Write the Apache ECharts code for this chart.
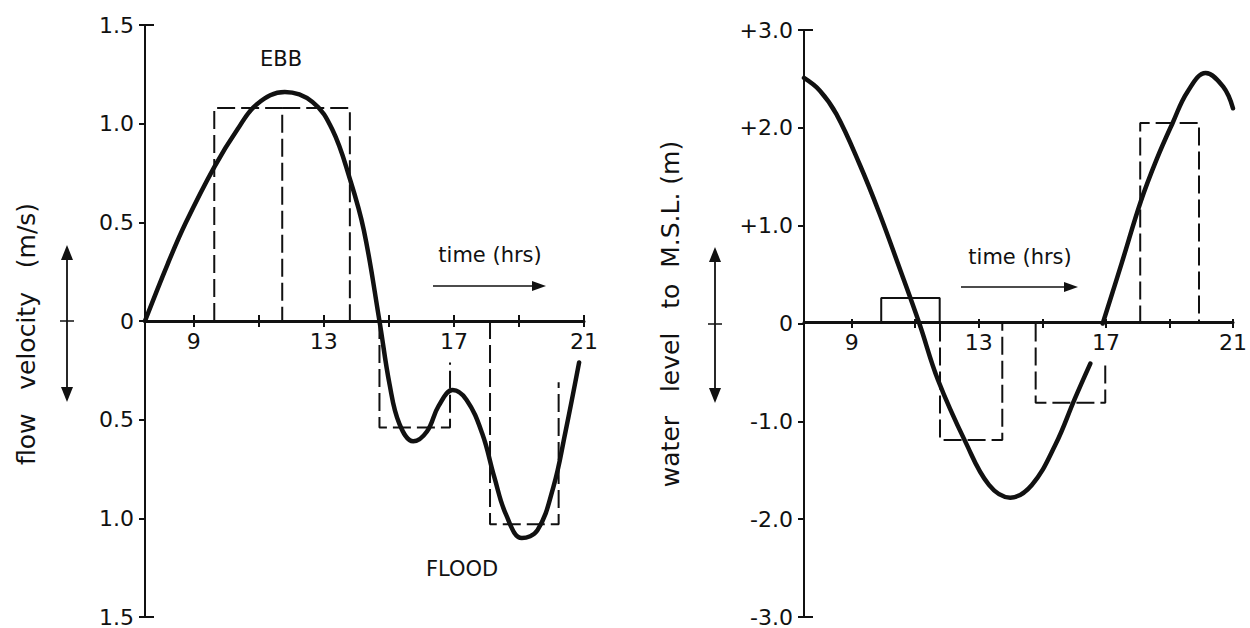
<!DOCTYPE html>
<html><head><meta charset="utf-8">
<script src="https://cdn.jsdelivr.net/npm/echarts@6/dist/echarts.min.js"></script>
<style>html,body{margin:0;padding:0;background:#fff}#c{width:1250px;height:628px}</style>
</head><body><div id="c"></div>
<script>
// ---- data ----
const xTickHours = [9, 11, 13, 15, 17, 19, 21];
const xLabelHours = [9, 13, 17, 21];

// flow velocity (m/s), positive = ebb, negative = flood
const velHours  = [7.5, 8.2, 8.76, 9.63, 10.34, 10.95, 11.8, 12.65, 13.26, 13.8, 14.23, 14.71, 15.02, 15.32, 15.75, 16.17, 16.53, 16.96, 17.39, 17.87, 18.24, 18.6, 19.09, 19.57, 20.06, 20.42, 20.85];
const velValues = [0, 0.29, 0.5, 0.78, 0.97, 1.10, 1.16, 1.11, 0.97, 0.72, 0.46, 0, -0.32, -0.52, -0.61, -0.56, -0.43, -0.35, -0.40, -0.57, -0.79, -0.98, -1.10, -1.06, -0.84, -0.57, -0.21];
// step blocks: [start hour, end hour, level]
const velBlocks = [[9.63, 11.72, 1.08], [11.72, 13.8, 1.08], [14.71, 16.88, -0.54], [18.11, 20.22, -1.03]];
const velBlockRightTop = [0, 0, -0.21, -0.31];

// water level to M.S.L. (m)
const tideHours1  = [7.5, 8.0, 8.52, 9.26, 9.87, 10.48, 11.13, 11.72, 12.58, 13.32, 13.99, 14.67, 15.41, 16.02, 16.51];
const tideValues1 = [2.51, 2.38, 2.14, 1.62, 1.13, 0.59, 0.0, -0.58, -1.21, -1.65, -1.78, -1.65, -1.24, -0.77, -0.41];
const tideHours2  = [16.9, 17.5, 18.1, 18.6, 19.1, 19.57, 20.14, 20.69, 21.0];
const tideValues2 = [0, 0.62, 1.25, 1.68, 2.05, 2.37, 2.56, 2.42, 2.2];
const tideBlocks = [[9.93, 11.77, 0.26], [11.78, 13.74, -1.19], [14.79, 16.98, -0.81], [18.08, 19.93, 2.05]];
const tideBlockRightTop = [0, 0, -0.4, 0];
const tideBlockDashed = [false, true, true, true];

// ---- chart ----
const INK = '#111';
const FONT = 'DejaVu Sans';
const chart = echarts.init(document.getElementById('c'), null, {renderer: 'svg'});
const grids = [
  {left: 145, top: 25, width: 439, height: 592},
  {left: 804, top: 30, width: 441, height: 590}
];
const yRanges = [[-1.5, 1.5, 0.5], [-3, 3, 1]];

function zip(xs, ys) { return xs.map((x, i) => [x, ys[i]]); }
function blockPath(blocks, i, rightTop) {
  const b = blocks[i];
  const prev = blocks[i - 1];
  const shared = prev && Math.abs(prev[1] - b[0]) < 1e-9 && Math.sign(prev[2]) === Math.sign(b[2]);
  const pts = shared ? [[b[0], b[2]]] : [[b[0], 0], [b[0], b[2]]];
  return pts.concat([[b[1], b[2]], [b[1], rightTop]]);
}

function xAxesFor(gridIndex) {
  const g = grids[gridIndex], r = yRanges[gridIndex];
  const zeroFromBottom = g.height * (0 - r[0]) / (r[1] - r[0]);
  const zeroFromTop = g.height - zeroFromBottom;
  const common = {type: 'value', gridIndex, min: 7.5, max: 21, splitLine: {show: false}};
  return [
    Object.assign({}, common, {
      position: 'bottom', offset: -zeroFromBottom,
      axisLine: {onZero: false, lineStyle: {color: INK, width: 3}},
      axisTick: {customValues: xTickHours, length: 6, lineStyle: {color: INK, width: 2}},
      axisLabel: {customValues: xLabelHours, fontSize: 22, fontFamily: FONT, color: INK, margin: 9}
    }),
    Object.assign({}, common, {
      position: 'top', offset: -zeroFromTop,
      axisLine: {show: false, onZero: false},
      axisTick: {customValues: xTickHours, length: 6, lineStyle: {color: INK, width: 2}},
      axisLabel: {show: false}
    })
  ];
}
function yAxesFor(gridIndex, fmt) {
  const r = yRanges[gridIndex];
  const common = {type: 'value', gridIndex, min: r[0], max: r[1], interval: r[2], position: 'left', splitLine: {show: false}};
  return [
    Object.assign({}, common, {
      axisLine: {onZero: false, lineStyle: {color: INK, width: 2}},
      axisTick: {length: 6, lineStyle: {color: INK, width: 2}},
      axisLabel: {formatter: fmt, fontSize: 22, fontFamily: FONT, color: INK, margin: 11}
    }),
    Object.assign({}, common, {
      axisLine: {show: false, onZero: false},
      axisTick: {inside: true, length: 9, customValues: [r[0], r[1]], lineStyle: {color: INK, width: 2}},
      axisLabel: {show: false}
    })
  ];
}

const curveStyle = {color: INK, width: 4.5, cap: 'round', join: 'round'};
const dashStyle = {color: INK, width: 2, type: [18, 6]};
const series = [];
function addLine(data, xi, yi, style, smooth) {
  series.push({type: 'line', xAxisIndex: xi, yAxisIndex: yi, data, showSymbol: false,
    smooth: smooth ? 0.4 : false,
    lineStyle: style, itemStyle: {color: INK}, silent: true, animation: false, z: smooth ? 3 : 2});
}
addLine(zip(velHours, velValues), 0, 0, curveStyle, true);
velBlocks.forEach((b, i) => addLine(blockPath(velBlocks, i, velBlockRightTop[i]), 0, 0, dashStyle, false));
addLine(zip(tideHours1, tideValues1), 2, 2, curveStyle, true);
addLine(zip(tideHours2, tideValues2), 2, 2, curveStyle, true);
tideBlocks.forEach((b, i) => addLine(blockPath(tideBlocks, i, tideBlockRightTop[i]), 2, 2,
  tideBlockDashed[i] ? dashStyle : {color: INK, width: 2}, false));

function txt(x, y, text, size, rot) {
  return {type: 'text', x, y, rotation: rot || 0, silent: true,
    style: {text, font: (size || 21) + 'px "' + FONT + '"', fill: INK, align: 'center', verticalAlign: 'middle'}};
}
function hArrow(x1, x2, y) {
  return [
    {type: 'line', silent: true, shape: {x1, y1: y, x2: x2 - 8, y2: y}, style: {stroke: INK, lineWidth: 1.5}},
    {type: 'polygon', silent: true, shape: {points: [[x2 - 14, y - 5], [x2, y], [x2 - 14, y + 5]]}, style: {fill: INK}}
  ];
}
function vArrow(x, y1, y2, yc) {
  return [
    {type: 'line', silent: true, shape: {x1: x, y1: y1 + 8, x2: x, y2: y2 - 8}, style: {stroke: INK, lineWidth: 1.8}},
    {type: 'polygon', silent: true, shape: {points: [[x - 6, y1 + 15], [x, y1], [x + 6, y1 + 15]]}, style: {fill: INK}},
    {type: 'polygon', silent: true, shape: {points: [[x - 6, y2 - 15], [x, y2], [x + 6, y2 - 15]]}, style: {fill: INK}},
    {type: 'line', silent: true, shape: {x1: x - 7, y1: yc, x2: x + 7, y2: yc}, style: {stroke: INK, lineWidth: 1.5}}
  ];
}

const graphic = [
  txt(281, 59, 'EBB', 21),
  txt(462, 569, 'FLOOD', 21),
  txt(490, 255, 'time (hrs)', 21),
  txt(1020, 257, 'time (hrs)', 21),
  txt(26, 334, 'flow   velocity   (m/s)', 25, Math.PI / 2),
  txt(670, 314, 'water   level   to  M.S.L. (m)', 25, Math.PI / 2)
].concat(hArrow(433, 546, 286), hArrow(961, 1078, 287), vArrow(67, 245, 402, 321), vArrow(715, 247, 403, 324));

chart.setOption({
  animation: false,
  backgroundColor: '#fff',
  grid: grids,
  xAxis: xAxesFor(0).concat(xAxesFor(1)),
  yAxis: yAxesFor(0, v => v === 0 ? '0' : Math.abs(v).toFixed(1))
    .concat(yAxesFor(1, v => v === 0 ? '0' : (v > 0 ? '+' : '-') + Math.abs(v).toFixed(1))),
  series,
  graphic
});
</script>
</body></html>
